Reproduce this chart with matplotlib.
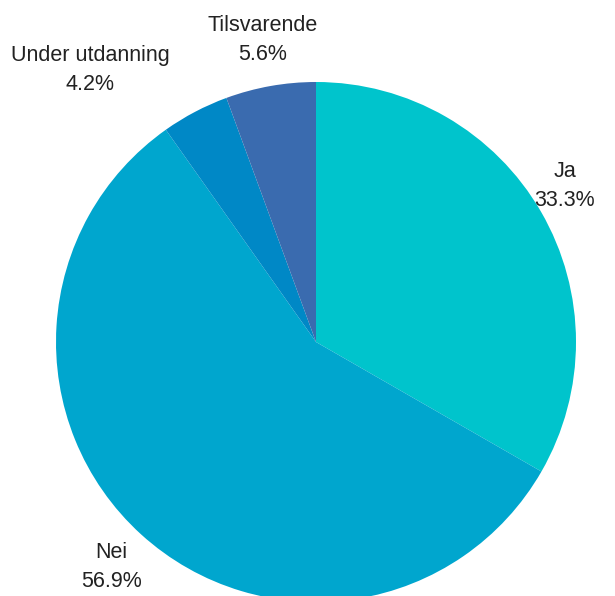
import numpy as np
import matplotlib; matplotlib.use("Agg")
import matplotlib.pyplot as plt

labels = ["Ja", "Nei", "Under utdanning", "Tilsvarende"]
values = [33.3, 56.9, 4.2, 5.6]
colors = ["#00C4CC", "#00A6CE", "#0088C6", "#3A6BAF"]
label_dist = [1.13, 1.17, 1.36, 1.18]
label_shift = [-2, 0, -12, 0]  # degrees, to keep labels apart

plt.rcParams["font.family"] = ["Liberation Sans", "DejaVu Sans"]

fig = plt.figure(figsize=(6.15, 5.96), dpi=100)
ax = fig.add_axes([0, 0, 1, 1])
ax.pie(values, colors=colors, startangle=90, counterclock=False, radius=1,
       wedgeprops=dict(linewidth=0))

# pie centre at (316, 342) px from top-left, radius 260 px
r = 260.0
ax.set_xlim(-316 / r, (615 - 316) / r)
ax.set_ylim(-(596 - 342) / r, 342 / r)

total = sum(values)
start = 0.0
for lbl, v, d, s in zip(labels, values, label_dist, label_shift):
    mid = np.deg2rad(360 * (start + v / 2) / total + s)
    start += v
    ax.text(d * np.sin(mid), d * np.cos(mid), f"{lbl}\n{v:.1f}%",
            ha="center", va="center", fontsize=15.5, linespacing=1.45, color="#222222")

plt.savefig("out.png", dpi=100)
plt.close()
